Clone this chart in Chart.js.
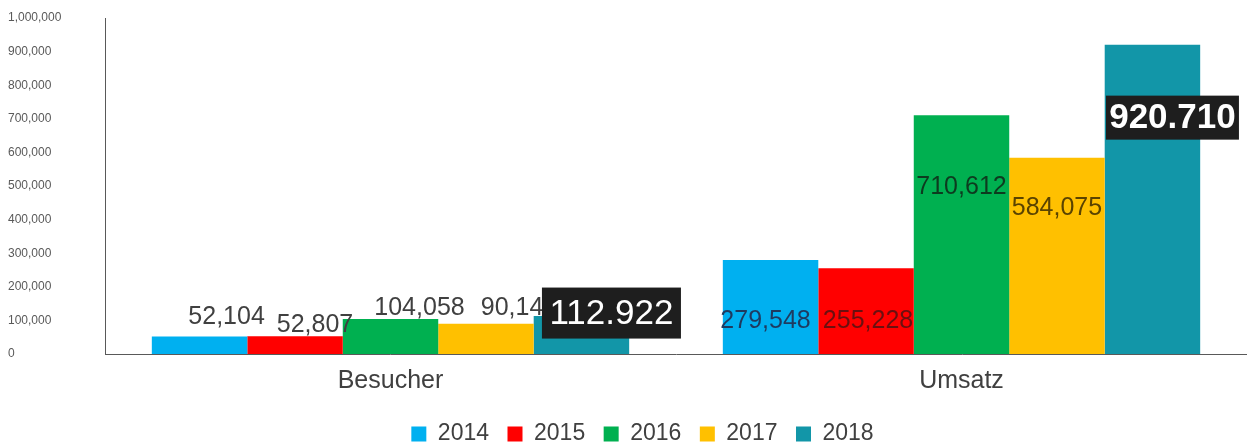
<!DOCTYPE html>
<html>
<head>
<meta charset="utf-8">
<script src="https://cdn.jsdelivr.net/npm/chart.js@4/dist/chart.umd.min.js"></script>
<style>
  html, body { margin: 0; padding: 0; background: #fff; }
  #wrap { width: 1247px; height: 442px; }
</style>
</head>
<body>
<div id="wrap"><canvas id="chart"></canvas></div>
<script>
/* ============================================================
   DATA
============================================================ */
const categories = ["Besucher", "Umsatz"];
const years = ["2014", "2015", "2016", "2017", "2018"];

const values2014 = [52104, 279548];
const values2015 = [52807, 255228];
const values2016 = [104058, 710612];
const values2017 = [90140, 584075];
const values2018 = [112922, 920710];

const yMin = 0;
const yMax = 1000000;
const yStep = 100000;

/* ============================================================
   STYLE
============================================================ */
const FONT = "'Liberation Sans', Arial, sans-serif";
const colors = ["#00b0f0", "#ff0000", "#00b050", "#ffc000", "#1296a8"];
const fmtEN = new Intl.NumberFormat("en-US");
const fmtDE = new Intl.NumberFormat("de-DE");

// label placement per dataset: [Besucher, Umsatz], offsets from bar top centre
const labelCfg = [
  [{ dx: 27, dy: -19, color: "#404040" }, { dx: -5, dy: 61, color: "#1f3a5f" }],
  [{ dx: 20, dy: -11, color: "#404040" }, { dx: 2, dy: 53, color: "#6b1010" }],
  [{ dx: 29, dy: -11, color: "#404040" }, { dx: 0, dy: 72, color: "#0d3b1f" }],
  [{ dx: 33, dy: -16, color: "#404040" }, { dx: 0, dy: 50, color: "#5a4300" }],
  [
    { dx: 30, dy: -3, box: true, w: 139, h: 51, bold: false },
    { dx: 20, dy: 73, box: true, w: 133, h: 44, bold: true },
  ],
];

const seriesValues = [values2014, values2015, values2016, values2017, values2018];

const valueLabels = {
  id: "valueLabels",
  afterLayout(chart) {
    // legend in the original sits a bit right of centre
    if (chart.legend) {
      chart.legend.left += 15;
      chart.legend.right += 15;
    }
  },
  afterDatasetsDraw(chart) {
    const { ctx } = chart;
    ctx.save();
    ctx.textAlign = "center";
    ctx.textBaseline = "middle";
    chart.data.datasets.forEach((ds, di) => {
      const meta = chart.getDatasetMeta(di);
      meta.data.forEach((bar, i) => {
        const cfg = labelCfg[di][i];
        const cx = bar.x + cfg.dx;
        const cy = bar.y + cfg.dy;
        if (cfg.box) {
          ctx.fillStyle = "#1e1e1e";
          ctx.fillRect(cx - cfg.w / 2, cy - cfg.h / 2, cfg.w, cfg.h);
          ctx.fillStyle = "#ffffff";
          ctx.font = `${cfg.bold ? "bold " : ""}35px ${FONT}`;
          ctx.fillText(fmtDE.format(ds.data[i]), cx, cy + 1);
        } else {
          ctx.fillStyle = cfg.color;
          ctx.font = `25px ${FONT}`;
          ctx.fillText(fmtEN.format(ds.data[i]), cx, cy);
        }
      });
    });
    ctx.restore();
  },
};

/* ============================================================
   CHART
============================================================ */
const chart = new Chart(document.getElementById("chart"), {
  type: "bar",
  data: {
    labels: categories,
    datasets: years.map((y, idx) => ({
      label: y,
      data: seriesValues[idx],
      backgroundColor: colors[idx],
      borderWidth: 0,
      categoryPercentage: 0.836,
      barPercentage: 1.0,
    })),
  },
  options: {
    responsive: true,
    maintainAspectRatio: false,
    animation: false,
    layout: { padding: { top: 18, left: 8, right: 0, bottom: -13.5 } },
    plugins: {
      legend: {
        position: "bottom",
        labels: {
          boxWidth: 15,
          boxHeight: 15,
          padding: 18.5,
          color: "#404040",
          font: { family: FONT, size: 23 },
        },
      },
      tooltip: { enabled: false },
    },
    scales: {
      x: {
        grid: { display: false, drawTicks: false },
        border: { display: true, color: "#595959", width: 1 },
        ticks: {
          color: "#404040",
          padding: 12,
          font: { family: FONT, size: 25 },
        },
        afterFit: (scale) => { scale.height -= 4; },
      },
      y: {
        min: yMin,
        max: yMax,
        grid: { display: false, drawTicks: false },
        border: { display: true, color: "#595959", width: 1 },
        ticks: {
          stepSize: yStep,
          crossAlign: "far",
          color: "#595959",
          font: { family: FONT, size: 12 },
          callback: (v) => fmtEN.format(v),
        },
        afterFit: (scale) => { scale.width = 97; },
      },
    },
  },
  plugins: [valueLabels],
});
</script>
</body>
</html>
